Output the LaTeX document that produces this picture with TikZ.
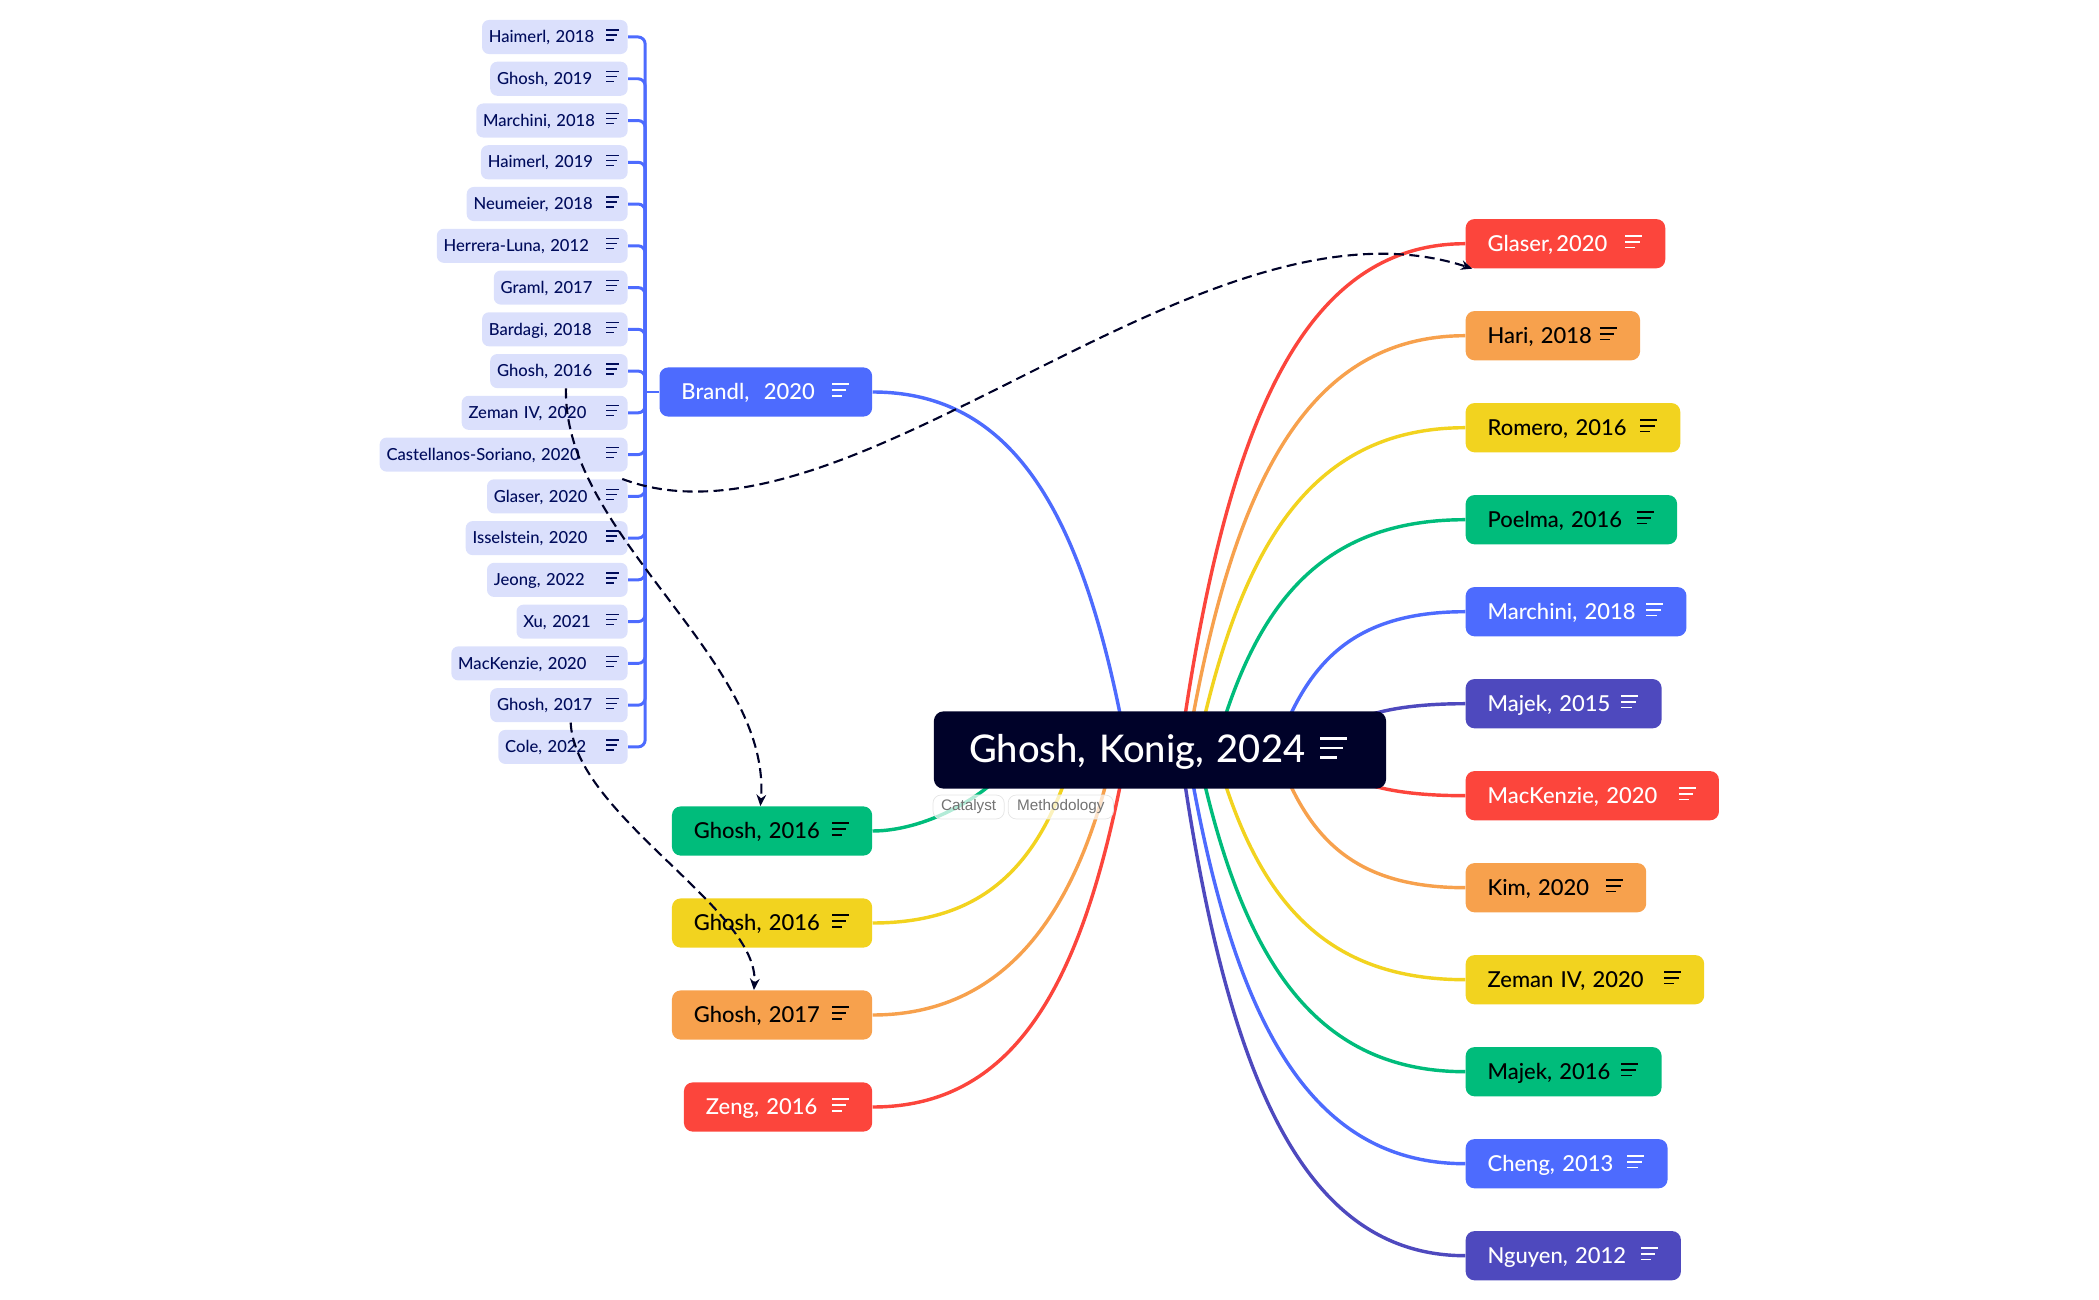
\documentclass[tikz,border=0pt]{standalone}
\usepackage{fontspec}
\setmainfont{Lato Medium}
\newfontfamily\tagfont{Liberation Sans}
\usetikzlibrary{arrows.meta,calc,positioning,backgrounds}

\definecolor{mapnavy}{HTML}{000229}
\definecolor{mapink}{HTML}{000C5C}
\definecolor{mapred}{HTML}{FC453C}
\definecolor{maporange}{HTML}{F7A14D}
\definecolor{mapyellow}{HTML}{F2D31F}
\definecolor{mapgreen}{HTML}{00BC7B}
\definecolor{mapblue}{HTML}{4D6BFE}
\definecolor{mappurple}{HTML}{4E49BE}
\definecolor{mapsub}{HTML}{DBE0FC}

\tikzset{
  rootnode/.style={fill=mapnavy,text=white,rounded corners=5.5pt,minimum height=44pt,inner xsep=20pt,text height=16.5pt,text depth=2.5pt,align=left,font=\fontsize{21.7}{25}\selectfont},
  bignode/.style={rounded corners=5pt,minimum height=28pt,inner xsep=12.5pt,text height=10.5pt,text depth=1.5pt,align=left,font=\fontsize{12.5}{15}\selectfont},
  subnode/.style={fill=mapsub,text=mapink,rounded corners=4pt,minimum height=19.4pt,inner xsep=3.9pt,text height=8pt,text depth=1.5pt,align=left,font=\fontsize{9.45}{11}\selectfont},
  tagnode/.style={draw=black!10,fill=white,fill opacity=0.7,text opacity=1,text=black!55,rounded corners=4.5pt,minimum height=13.6pt,inner sep=0pt,font=\tagfont\fontsize{8.7}{10}\selectfont},
  branch/.style={line width=1.95pt},
  stub/.style={line width=1.7pt,draw=mapblue,rounded corners=4pt},
  crosslink/.style={line width=1.2pt,draw=mapnavy,dash pattern=on 5.7pt off 3.1pt,-{Stealth[length=6.5pt,width=5.5pt]}}
}

% the three bars inside a node: node, pad from the right, bar length, bar gap, bar width, colour
\newcommand{\notebars}[6]{
  \foreach \k/\f in {-1/1,0/0.85,1/0.6} {
    \draw[line width=#5,#6] ($(#1.east)+(-#2,-2+\k*#4)$) -- ++(\f*#3,0);
  }
}

\begin{document}
\begin{tikzpicture}[x=0.02cm,y=-0.02cm]
\useasboundingbox (0,0) rectangle (2099,1300);

%root
\node[rootnode,text width=217.4pt,minimum width=257.4pt] (root) at (1160,750) {Ghosh, Konig, 2024};
\notebars{root}{66}{27}{9.3}{1.7pt}{white}

%tags
\node[tagnode,minimum width=40.5pt] (tagA) at (968.6,807) {Catalyst};
\node[tagnode,minimum width=59.9pt] (tagB) at (1060.8,807) {Methodology};

%left branches
\foreach \w/\y/\col/\tcol/\txt [count=\i from 0] in {
  213.5/392/mapblue/white/{Brandl,\ \ 2020},
  201/831/mapgreen/black/{Ghosh, 2016},
  201/923/mapyellow/black/{Ghosh, 2016},
  201/1015/maporange/black/{Ghosh, 2017},
  189/1107/mapred/white/{Zeng, 2016}} {
  \node[bignode,fill=\col,text=\tcol,anchor=east,minimum width=\w*0.5669pt,text width=\w*0.5669pt-25pt] (L\i) at (872.5,\y) {\txt};
  \notebars{L\i}{40.5}{17}{5.8}{1.05pt}{\tcol}
}

%right branches
\foreach \w/\col/\tcol/\txt [count=\i from 0] in {
  200.4/mapred/white/{Glaser,\hspace{0.15em}2020},
  175.1/maporange/black/{Hari, 2018},
  215.5/mapyellow/black/{Romero, 2016},
  212.3/mapgreen/black/{Poelma, 2016},
  221.7/mapblue/white/{Marchini, 2018},
  196.7/mappurple/white/{Majek, 2015},
  254.3/mapred/white/{MacKenzie, 2020},
  181.3/maporange/black/{Kim, 2020},
  239.5/mapyellow/black/{Zeman IV, 2020},
  196.7/mapgreen/black/{Majek, 2016},
  202.7/mapblue/white/{Cheng, 2013},
  216.1/mappurple/white/{Nguyen, 2012}} {
  \pgfmathsetmacro\rowy{243.7+92*\i}
  \node[bignode,fill=\col,text=\tcol,anchor=west,minimum width=\w*0.5669pt,text width=\w*0.5669pt-25pt] (R\i) at (1465.3,\rowy) {\txt};
  \notebars{R\i}{40.5}{17}{5.8}{1.05pt}{\tcol}
}

%sub topics of the blue branch
\foreach \w/\txt [count=\i from 0] in {
  146.2/{Haimerl, 2018},
  138/{Ghosh, 2019},
  152/{Marchini, 2018},
  147.3/{Haimerl, 2019},
  161.6/{Neumeier, 2018},
  191.6/{Herrera-Luna, 2012},
  134.4/{Graml, 2017},
  146.2/{Bardagi, 2018},
  138/{Ghosh, 2016},
  166.6/{Zeman IV, 2020},
  249/{Castellanos-Soriano, 2020},
  141.2/{Glaser, 2020},
  162.6/{Isselstein, 2020},
  141.2/{Jeong, 2022},
  111.6/{Xu, 2021},
  177/{MacKenzie, 2020},
  138/{Ghosh, 2017},
  129.8/{Cole, 2022}} {
  \pgfmathsetmacro\rowy{37+41.76*\i}
  \node[subnode,anchor=east,minimum width=\w*0.5669pt,text width=\w*0.5669pt-7.8pt] (S\i) at (628,\rowy) {\txt};
  \notebars{S\i}{21.7}{13}{5}{0.75pt}{mapink}
}

\coordinate (J) at ($(L0.west)+(-14,0)$);

\begin{scope}[on background layer]
%stubs
\draw[stub] (L0.west) -- (J);
\foreach \i in {0,...,17} {
  \draw[stub] (S\i.east) -| (J);
}
%curves out of the root, left side
\foreach \i/\col/\sx/\ax/\ay/\cx in {
  0/mapblue/-33/-41/-226/147,
  1/mapgreen/-140/-20/40/57,
  2/mapyellow/-85/-32/109/117,
  3/maporange/-46/-36/167/130,
  4/mapred/-33/-41/226/147} {
  \coordinate (TL\i) at ($(root.center)+(\sx,0)$);
  \draw[branch,draw=\col] (TL\i) .. controls +(\ax,\ay) and +(\cx,0) .. (L\i.east);
}
%curves out of the root, right side
\foreach \i/\col/\sx/\ax/\ay/\cx in {
  0/mapred/20/45/-320/-165,
  1/maporange/27/44/-261/-161,
  2/mapyellow/37/43/-203/-155,
  3/mapgreen/55/40/-145/-145,
  4/mapblue/116/31/-87/-113,
  5/mappurple/160/20/-38/-60,
  6/mapred/160/20/38/-60,
  7/maporange/116/31/87/-113,
  8/mapyellow/55/40/145/-145,
  9/mapgreen/37/43/203/-155,
  10/mapblue/27/44/261/-161,
  11/mappurple/20/45/320/-165} {
  \coordinate (TR\i) at ($(root.center)+(\sx,0)$);
  \draw[branch,draw=\col] (TR\i) .. controls +(\ax,\ay) and +(\cx,0) .. (R\i.west);
}
\end{scope}

%dashed links
\draw[crosslink] (S11.15) .. controls (850,565) and (1200,180) .. (R0.195.3);
\draw[crosslink] (S8.-68) .. controls (563,535) and (772,660) .. (L1.115);
\draw[crosslink] (S16.-56) .. controls (575,815) and (760,910) .. (L3.126);
\end{tikzpicture}
\end{document}
